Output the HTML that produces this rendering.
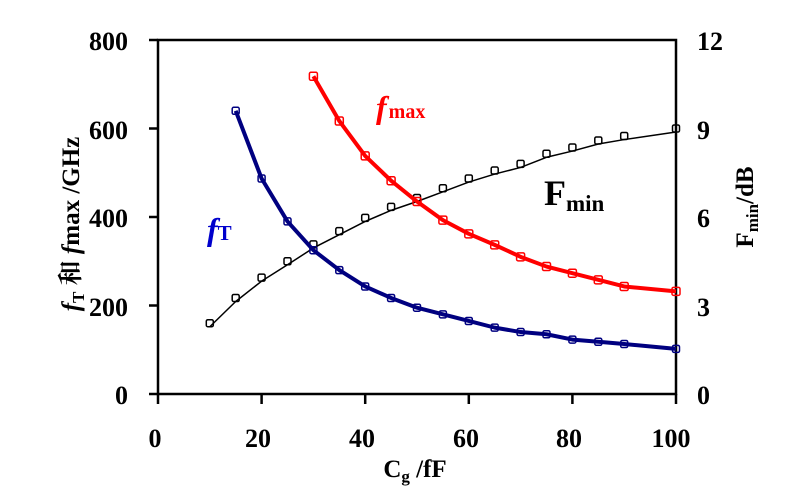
<!DOCTYPE html>
<html><head><meta charset="utf-8"><style>
body{margin:0;background:#fff;}
svg{display:block;font-family:"Liberation Serif","Noto Serif CJK SC",serif;font-weight:bold;}
</style></head><body>
<svg id="s" width="790" height="495" xmlns="http://www.w3.org/2000/svg">
<rect x="158" y="40" width="518" height="354" fill="none" stroke="#000" stroke-width="2.5"/>
<g stroke="#000" stroke-width="2.5">
<line x1="149" y1="40" x2="158" y2="40"/><line x1="149" y1="128.5" x2="158" y2="128.5"/><line x1="149" y1="217" x2="158" y2="217"/><line x1="149" y1="305.5" x2="158" y2="305.5"/><line x1="149" y1="394" x2="158" y2="394"/>
<line x1="158" y1="394" x2="158" y2="404"/><line x1="261.6" y1="394" x2="261.6" y2="404"/><line x1="365.2" y1="394" x2="365.2" y2="404"/><line x1="468.8" y1="394" x2="468.8" y2="404"/><line x1="572.4" y1="394" x2="572.4" y2="404"/><line x1="676" y1="394" x2="676" y2="404"/>
</g>
<g font-size="26" text-anchor="end">
<text x="128" y="50">800</text><text x="128" y="139">600</text><text x="128" y="227">400</text><text x="128" y="316">200</text><text x="128" y="404">0</text>
</g>
<g font-size="26" text-anchor="middle">
<text x="155" y="447">0</text><text x="258" y="447">20</text><text x="362" y="447">40</text><text x="466" y="447">60</text><text x="569" y="447">80</text><text x="671" y="447">100</text>
</g>
<g font-size="26">
<text x="697" y="50">12</text><text x="697" y="139">9</text><text x="697" y="227">6</text><text x="697" y="316">3</text><text x="697" y="404">0</text>
</g>
<text x="415" y="477" font-size="25" text-anchor="middle">C<tspan font-size="17" dy="5">g</tspan><tspan dy="-5"> /fF</tspan></text>
<text transform="translate(79,224) rotate(-90)" font-size="25" text-anchor="middle"><tspan font-style="italic">f</tspan><tspan font-size="17" dy="5">T</tspan><tspan dy="-5"> 和 </tspan><tspan font-style="italic">f</tspan>max /GHz</text>
<text transform="translate(753,207) rotate(-90)" font-size="25" text-anchor="middle">F<tspan font-size="17" dy="5">min</tspan><tspan dy="-5">/dB</tspan></text>
<text x="207" y="240" font-size="32" fill="#0000cc" font-style="italic">f<tspan font-size="21" font-style="normal">T</tspan></text>
<text x="376" y="118" font-size="32" fill="#ff0000" font-style="italic">f<tspan font-size="20" font-style="normal" dx="2">max</tspan></text>
<text x="544" y="205" font-size="36" fill="#000">F<tspan font-size="23" dy="6">min</tspan></text>
<g id="g"></g>
</svg>
<script>
const X=v=>158+v*5.18,Y=v=>394-v*0.4425;
const ft=[[15,640],[20,487],[25,390],[30,325],[35,280],[40,243],[45,217],[50,195],[55,180],[60,165],[65,150],[70,140],[75,135],[80,123],[85,118],[90,113],[100,102]];
const fm=[[30,718],[35,617],[40,538],[45,482],[50,435],[55,393],[60,362],[65,337],[70,310],[75,288],[80,273],[85,258],[90,243],[100,232]];
const fn=[[10,160],[15,217],[20,263],[25,300],[30,338],[35,368],[40,398],[45,423],[50,443],[55,465],[60,487],[65,505],[70,520],[75,543],[80,557],[85,573],[90,583],[100,600]];
const g=document.getElementById('g');let h='';
function line(d,c,w){h+=`<polyline fill="none" stroke="${c}" stroke-width="${w}" stroke-linejoin="round" points="${d.map(p=>X(p[0])+','+Y(p[1])).join(' ')}"/>`;}
function marks(d,c,s){d.forEach(p=>{h+=`<rect x="${X(p[0])-s/2}" y="${Y(p[1])-s/2}" width="${s}" height="${s}" rx="1.5" fill="none" stroke="${c}" stroke-width="1.5"/>`;});}
line(fn.map(p=>[p[0],p[1]-8]),'#000',1.5);marks(fn,'#000',7);
line(ft,'#000080',4);marks(ft,'#000080',7);
line(fm,'#ff0000',4);marks(fm,'#ff0000',8);
g.innerHTML=h;
</script>
</body></html>
